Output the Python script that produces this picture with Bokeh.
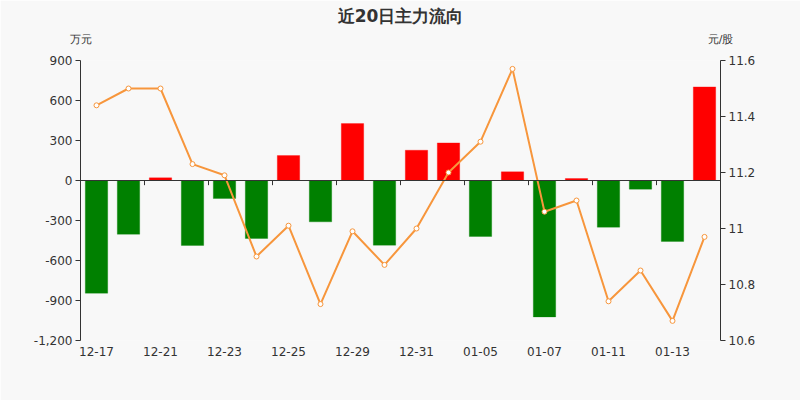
from bokeh.plotting import figure
from bokeh.models import (Range1d, LinearAxis, FixedTicker, NumeralTickFormatter,
                          CustomJSTickFormatter, Span, Title, ColumnDataSource)
from bokeh.embed import file_html
from bokeh.resources import INLINE

# ---- data ----
dates = ["12-17", "12-18", "12-21", "12-22", "12-23", "12-24", "12-25", "12-28",
         "12-29", "12-30", "12-31", "01-04", "01-05", "01-06", "01-07", "01-08",
         "01-11", "01-12", "01-13", "01-14"]
flow = [-845, -403, 20, -487, -135, -435, 187, -310, 427, -485,
        227, 282, -420, 65, -1023, 15, -350, -65, -457, 702]
price = [11.44, 11.50, 11.50, 11.23, 11.19, 10.90, 11.01, 10.73, 10.99, 10.87,
         11.00, 11.20, 11.31, 11.57, 11.06, 11.10, 10.74, 10.85, 10.67, 10.97]
left_ticks = [-1200, -900, -600, -300, 0, 300, 600, 900]
right_ticks = [10.6, 10.8, 11.0, 11.2, 11.4, 11.6]
title_text = "近20日主力流向"
left_unit = "万元"
right_unit = "元/股"

RED = "#ff0000"
GREEN = "#008000"
ORANGE = "#f7963c"
BG = "#f8f8f8"
TXT = "#333333"
FONT = "DejaVu Sans"

idx = list(range(len(dates)))
colors = [RED if v >= 0 else GREEN for v in flow]
src = ColumnDataSource(dict(x=idx, flow=flow, price=price, color=colors))

x_lo, x_hi = -0.5, len(dates) - 0.5
p = figure(width=800, height=400, frame_width=640, frame_height=280,
           output_backend="svg", toolbar_location=None,
           x_range=Range1d(x_lo, x_hi),
           y_range=Range1d(left_ticks[0], left_ticks[-1]),
           min_border_left=80, min_border_right=80, min_border_top=60, min_border_bottom=60,
           background_fill_color=BG, border_fill_color=BG, outline_line_color=None)
p.grid.visible = False


def style_axis(ax, size="12px", standoff=3):
    ax.minor_tick_line_color = None
    ax.major_tick_in = 0
    ax.major_label_text_color = TXT
    ax.major_label_text_font = FONT
    ax.major_label_text_font_size = size
    ax.major_label_standoff = standoff


# left axis
ya = p.yaxis[0]
ya.ticker = FixedTicker(ticks=left_ticks)
ya.formatter = NumeralTickFormatter(format="0,0")
style_axis(ya)
ya.axis_line_color = TXT
ya.major_tick_line_color = TXT
ya.major_tick_out = 5

# right axis
p.extra_y_ranges = {"price": Range1d(right_ticks[0], right_ticks[-1])}
ra = LinearAxis(y_range_name="price")
ra.ticker = FixedTicker(ticks=right_ticks)
ra.formatter = CustomJSTickFormatter(code="return tick.toFixed(1).replace(/\\.0$/, '');")
style_axis(ra)
ra.axis_line_color = TXT
ra.major_tick_line_color = TXT
ra.major_tick_out = 5
p.add_layout(ra, "right")

# bottom axis: labels only
xa = p.xaxis[0]
xa.ticker = FixedTicker(ticks=idx[::2])
xa.formatter = CustomJSTickFormatter(args=dict(labels=dates),
                                     code="return labels[Math.round(tick)] || '';")
style_axis(xa, standoff=6)
xa.axis_line_color = None
xa.major_tick_line_color = None
xa.major_tick_out = 0

# top axis carrying the unit labels at both ends of the frame
ta = LinearAxis()
ta.ticker = FixedTicker(ticks=[x_lo, x_hi])
ta.formatter = CustomJSTickFormatter(args=dict(l=left_unit, r=right_unit),
                                     code="return tick < 0 ? l : r;")
style_axis(ta, size="11px", standoff=15)
ta.axis_line_color = None
ta.major_tick_line_color = None
ta.major_tick_out = 0
p.add_layout(ta, "above")

# title
p.add_layout(Title(text=title_text, align="center", text_font=FONT, text_font_size="17px",
                   text_font_style="bold", text_color=TXT, standoff=7), "above")

# bars
p.vbar(x="x", top="flow", bottom=0, width=0.7, source=src,
       fill_color="color", line_color="color", line_alpha=0.3, line_width=1)

# zero line with category-boundary ticks
p.add_layout(Span(location=0, dimension="width", line_color=TXT, line_width=1))
bounds = [i - 0.5 for i in range(2, len(dates), 2)]
p.segment(x0=bounds, x1=bounds, y0=[0] * len(bounds), y1=[-35] * len(bounds),
          line_color=TXT, line_width=1)

# price line
p.line(x="x", y="price", source=src, y_range_name="price",
       line_color=ORANGE, line_width=2)
p.scatter(x="x", y="price", source=src, y_range_name="price", size=5,
          fill_color="white", line_color=ORANGE, line_width=1)

open("out.html", "w").write(file_html(p, INLINE))
